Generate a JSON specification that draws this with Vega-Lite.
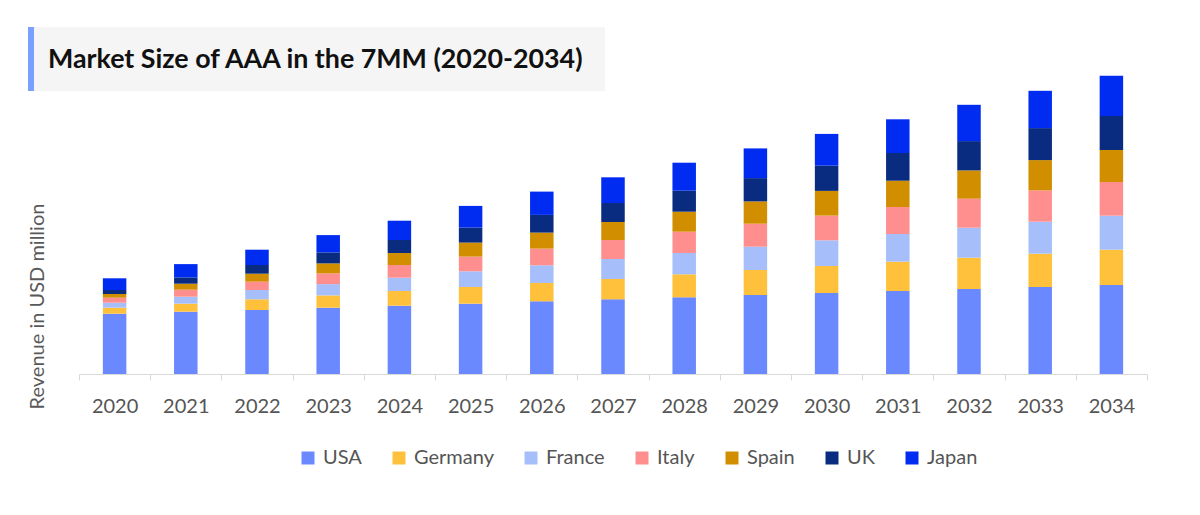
{
  "$schema": "https://vega.github.io/schema/vega-lite/v6.json",
  "padding": {"left": 27, "top": 27, "right": 10, "bottom": 10},
  "spacing": 0,
  "bounds": "flush",
  "config": {
    "font": "Lato",
    "view": {"stroke": null}
  },
  "vconcat": [
    {
      "width": 577,
      "height": 64,
      "data": {"values": [{"label": "Market Size of AAA in the 7MM (2020-2034)"}]},
      "layer": [
        {
          "mark": {"type": "rect", "color": "#f5f5f5", "xOffset": -51, "x2Offset": -51},
          "encoding": {
            "x": {"datum": 0, "type": "quantitative", "scale": {"domain": [0, 100]}, "axis": null},
            "x2": {"datum": 100}
          }
        },
        {
          "mark": {"type": "rect", "color": "#7aa0ff", "xOffset": -51, "x2Offset": -45},
          "encoding": {
            "x": {"datum": 0, "type": "quantitative"},
            "x2": {"datum": 0}
          }
        },
        {
          "mark": {"type": "text", "align": "left", "baseline": "middle", "dx": -31, "dy": 1, "fontSize": 26.8, "fontWeight": "bold", "color": "#111111"},
          "encoding": {
            "x": {"datum": 0, "type": "quantitative"},
            "text": {"field": "label"}
          }
        }
      ]
    },
    {
      "width": 1068,
      "height": 283,
      "data": {
        "values": [
          {"year": "2020", "country": "USA", "value": 603}, {"year": "2020", "country": "Germany", "value": 60}, {"year": "2020", "country": "France", "value": 50}, {"year": "2020", "country": "Italy", "value": 50}, {"year": "2020", "country": "Spain", "value": 37}, {"year": "2020", "country": "UK", "value": 40}, {"year": "2020", "country": "Japan", "value": 117},
          {"year": "2021", "country": "USA", "value": 623}, {"year": "2021", "country": "Germany", "value": 80}, {"year": "2021", "country": "France", "value": 70}, {"year": "2021", "country": "Italy", "value": 70}, {"year": "2021", "country": "Spain", "value": 60}, {"year": "2021", "country": "UK", "value": 63}, {"year": "2021", "country": "Japan", "value": 133},
          {"year": "2022", "country": "USA", "value": 640}, {"year": "2022", "country": "Germany", "value": 107}, {"year": "2022", "country": "France", "value": 93}, {"year": "2022", "country": "Italy", "value": 83}, {"year": "2022", "country": "Spain", "value": 80}, {"year": "2022", "country": "UK", "value": 87}, {"year": "2022", "country": "Japan", "value": 153},
          {"year": "2023", "country": "USA", "value": 663}, {"year": "2023", "country": "Germany", "value": 123}, {"year": "2023", "country": "France", "value": 113}, {"year": "2023", "country": "Italy", "value": 107}, {"year": "2023", "country": "Spain", "value": 100}, {"year": "2023", "country": "UK", "value": 110}, {"year": "2023", "country": "Japan", "value": 173},
          {"year": "2024", "country": "USA", "value": 683}, {"year": "2024", "country": "Germany", "value": 147}, {"year": "2024", "country": "France", "value": 133}, {"year": "2024", "country": "Italy", "value": 127}, {"year": "2024", "country": "Spain", "value": 120}, {"year": "2024", "country": "UK", "value": 130}, {"year": "2024", "country": "Japan", "value": 193},
          {"year": "2025", "country": "USA", "value": 703}, {"year": "2025", "country": "Germany", "value": 167}, {"year": "2025", "country": "France", "value": 157}, {"year": "2025", "country": "Italy", "value": 147}, {"year": "2025", "country": "Spain", "value": 140}, {"year": "2025", "country": "UK", "value": 150}, {"year": "2025", "country": "Japan", "value": 217},
          {"year": "2026", "country": "USA", "value": 727}, {"year": "2026", "country": "Germany", "value": 183}, {"year": "2026", "country": "France", "value": 177}, {"year": "2026", "country": "Italy", "value": 167}, {"year": "2026", "country": "Spain", "value": 160}, {"year": "2026", "country": "UK", "value": 177}, {"year": "2026", "country": "Japan", "value": 233},
          {"year": "2027", "country": "USA", "value": 747}, {"year": "2027", "country": "Germany", "value": 203}, {"year": "2027", "country": "France", "value": 200}, {"year": "2027", "country": "Italy", "value": 190}, {"year": "2027", "country": "Spain", "value": 180}, {"year": "2027", "country": "UK", "value": 190}, {"year": "2027", "country": "Japan", "value": 257},
          {"year": "2028", "country": "USA", "value": 767}, {"year": "2028", "country": "Germany", "value": 230}, {"year": "2028", "country": "France", "value": 213}, {"year": "2028", "country": "Italy", "value": 213}, {"year": "2028", "country": "Spain", "value": 200}, {"year": "2028", "country": "UK", "value": 210}, {"year": "2028", "country": "Japan", "value": 280},
          {"year": "2029", "country": "USA", "value": 790}, {"year": "2029", "country": "Germany", "value": 250}, {"year": "2029", "country": "France", "value": 233}, {"year": "2029", "country": "Italy", "value": 230}, {"year": "2029", "country": "Spain", "value": 223}, {"year": "2029", "country": "UK", "value": 233}, {"year": "2029", "country": "Japan", "value": 297},
          {"year": "2030", "country": "USA", "value": 810}, {"year": "2030", "country": "Germany", "value": 270}, {"year": "2030", "country": "France", "value": 257}, {"year": "2030", "country": "Italy", "value": 247}, {"year": "2030", "country": "Spain", "value": 247}, {"year": "2030", "country": "UK", "value": 253}, {"year": "2030", "country": "Japan", "value": 317},
          {"year": "2031", "country": "USA", "value": 830}, {"year": "2031", "country": "Germany", "value": 293}, {"year": "2031", "country": "France", "value": 277}, {"year": "2031", "country": "Italy", "value": 270}, {"year": "2031", "country": "Spain", "value": 263}, {"year": "2031", "country": "UK", "value": 277}, {"year": "2031", "country": "Japan", "value": 337},
          {"year": "2032", "country": "USA", "value": 850}, {"year": "2032", "country": "Germany", "value": 313}, {"year": "2032", "country": "France", "value": 300}, {"year": "2032", "country": "Italy", "value": 290}, {"year": "2032", "country": "Spain", "value": 283}, {"year": "2032", "country": "UK", "value": 293}, {"year": "2032", "country": "Japan", "value": 363},
          {"year": "2033", "country": "USA", "value": 870}, {"year": "2033", "country": "Germany", "value": 333}, {"year": "2033", "country": "France", "value": 320}, {"year": "2033", "country": "Italy", "value": 313}, {"year": "2033", "country": "Spain", "value": 303}, {"year": "2033", "country": "UK", "value": 320}, {"year": "2033", "country": "Japan", "value": 373},
          {"year": "2034", "country": "USA", "value": 890}, {"year": "2034", "country": "Germany", "value": 353}, {"year": "2034", "country": "France", "value": 340}, {"year": "2034", "country": "Italy", "value": 337}, {"year": "2034", "country": "Spain", "value": 320}, {"year": "2034", "country": "UK", "value": 340}, {"year": "2034", "country": "Japan", "value": 403}
        ]
      },
      "transform": [
        {"calculate": "indexof(['USA', 'Germany', 'France', 'Italy', 'Spain', 'UK', 'Japan'], datum.country)", "as": "stack_order"}
      ],
      "mark": {"type": "bar", "width": {"band": 0.33}},
      "encoding": {
        "x": {
          "field": "year",
          "type": "ordinal",
          "scale": {"paddingInner": 0, "paddingOuter": 0},
          "axis": {
            "title": null,
            "labelAngle": 0,
            "tickBand": "extent",
            "domainColor": "#d9d9d9",
            "tickColor": "#d9d9d9",
            "tickSize": 6,
            "labelFontSize": 20,
            "labelColor": "#555555",
            "labelPadding": 16
          }
        },
        "y": {
          "field": "value",
          "type": "quantitative",
          "stack": "zero",
          "scale": {"domain": [0, 2830]},
          "axis": {
            "domain": false,
            "ticks": false,
            "labels": false,
            "grid": false,
            "title": "Revenue in USD million",
            "titleFontSize": 20,
            "titleFontWeight": "normal",
            "titleColor": "#595959",
            "titlePadding": 32,
            "titleY": 215
          }
        },
        "order": {"field": "stack_order", "type": "quantitative", "sort": "ascending"},
        "color": {
          "field": "country",
          "type": "nominal",
          "scale": {
            "domain": ["USA", "Germany", "France", "Italy", "Spain", "UK", "Japan"],
            "range": ["#6b89ff", "#ffc13b", "#a6bffa", "#ff8f8f", "#d18f00", "#0a2c80", "#002cf2"]
          },
          "legend": {
            "orient": "none",
            "legendX": 219,
            "legendY": 421,
            "direction": "horizontal",
            "title": null,
            "padding": 0,
            "symbolType": "square",
            "symbolSize": 169,
            "symbolStrokeWidth": 0,
            "symbolOpacity": 1,
            "labelFontSize": 20,
            "labelColor": "#555555",
            "labelOffset": 5,
            "columnPadding": 27
          }
        }
      }
    }
  ]
}
